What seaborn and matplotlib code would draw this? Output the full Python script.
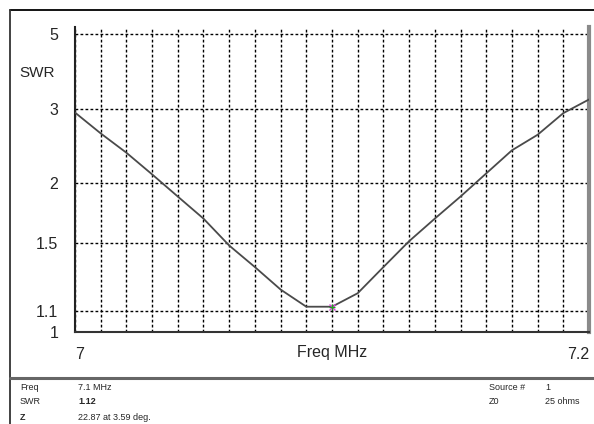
import numpy as np
import matplotlib
matplotlib.use("Agg")
import matplotlib.pyplot as plt
from matplotlib.lines import Line2D
import seaborn as sns

# ---- data ----
freq_mhz = [7.00, 7.01, 7.02, 7.03, 7.04, 7.05, 7.06, 7.07, 7.08, 7.09, 7.10,
            7.11, 7.12, 7.13, 7.14, 7.15, 7.16, 7.17, 7.18, 7.19, 7.20]
swr = [2.93, 2.60, 2.34, 2.09, 1.87, 1.68, 1.48, 1.34, 1.21, 1.12, 1.12,
       1.19, 1.34, 1.51, 1.68, 1.87, 2.10, 2.37, 2.58, 2.92, 3.17]
swr_ticks = [1, 1.1, 1.5, 2, 3, 5]
swr_tick_labels = ["1", "1.1", "1.5", "2", "3", "5"]
x_grid = [7.00, 7.01, 7.02, 7.03, 7.04, 7.05, 7.06, 7.07, 7.08, 7.09, 7.10,
          7.11, 7.12, 7.13, 7.14, 7.15, 7.16, 7.17, 7.18, 7.19, 7.20]
x_tick_labels = ["7", "7.2"]
marker_freq = [7.1]
marker_swr = [1.12]

sns.set_style("white")
plt.rcParams['font.family'] = ['Liberation Sans', 'DejaVu Sans']

W, H = 594, 424
fig = plt.figure(figsize=(W / 100, H / 100), dpi=100)

def fx(px):
    return px / W

def fy(py):
    return 1 - py / H

ax_l, ax_r, ax_t, ax_b = 75, 589, 27, 332
ax = fig.add_axes([fx(ax_l), fy(ax_b), (ax_r - ax_l) / W, (ax_b - ax_t) / H])

def fwd(s):
    s = np.asarray(s, dtype=float)
    return (s - 1) / (s + 1)

def inv(r):
    r = np.clip(np.asarray(r, dtype=float), -0.99, 0.999)
    return (1 + r) / (1 - r)

ax.set_yscale('function', functions=(fwd, inv))

sns.lineplot(x=freq_mhz, y=swr, ax=ax, color="#4a4a4a", linewidth=1.3, zorder=4)
ax.plot(marker_freq, marker_swr, marker='x', color="#e040e0", markersize=4,
        markeredgewidth=1.0, zorder=5)
ax.plot(marker_freq, marker_swr, marker='+', color="#20a020", markersize=4,
        markeredgewidth=1.0, zorder=6)

ax.set_xlim(7.0, 7.2)
ax.set_ylim(1, 5.3)

ax.set_yticks(swr_ticks)
ax.set_yticklabels(swr_tick_labels, fontsize=11.5)
ax.yaxis.set_minor_locator(matplotlib.ticker.NullLocator())
ax.set_xticks([x_grid[0], x_grid[-1]])
ax.set_xticklabels(x_tick_labels, fontsize=11.5)
ax.set_xticks(x_grid[1:-1], minor=True)
xl = ax.get_xticklabels()
xl[0].set_ha('left')
xl[1].set_ha('right')
ax.tick_params(axis='both', which='both', length=0)
ax.tick_params(axis='y', pad=12)
ax.tick_params(axis='x', pad=11)
for lab in ax.get_xticklabels():
    x0 = lab.get_position()[0]
ax.xaxis.get_majorticklabels()[1].set_x(7.2)

grid_kw = dict(color="black", linewidth=1.0, linestyle=(0, (2, 1.6)))
ax.grid(True, axis='x', which='both', **grid_kw)
ax.grid(True, axis='y', which='major', **grid_kw)
ax.set_axisbelow(True)

for side in ['top']:
    ax.spines[side].set_visible(False)
ax.spines['left'].set_color("#222222")
ax.spines['left'].set_linewidth(1.5)
ax.spines['bottom'].set_color("#333333")
ax.spines['bottom'].set_linewidth(1.5)
ax.spines['right'].set_color("#8a8a8a")
ax.spines['right'].set_linewidth(3)
ax.set_xlabel("")
ax.set_ylabel("")

# labels
fig.text(fx(19), fy(73), "SWR", fontsize=11, ha='left', va='center')
fig.text(fx(332), fy(352), "Freq MHz", fontsize=11.5, ha='center', va='center')

# frame lines
fig.add_artist(Line2D([fx(10), fx(594)], [fy(10), fy(10)], color="black", lw=1.3))
fig.add_artist(Line2D([fx(10), fx(10)], [fy(10), fy(424)], color="#333333", lw=1.3))
fig.add_artist(Line2D([fx(10), fx(594)], [fy(378), fy(378)], color="#666666", lw=2.2))

# info text
small = 6.5
fig.text(fx(20), fy(388), "Freq", fontsize=small, ha='left', va='center')
fig.text(fx(78), fy(388), "7.1 MHz", fontsize=small, ha='left', va='center')
fig.text(fx(20), fy(402), "SWR", fontsize=small, ha='left', va='center')
fig.text(fx(78), fy(402), "1.12", fontsize=small, ha='left', va='center', weight='bold')
fig.text(fx(20), fy(417), "Z", fontsize=small, ha='left', va='center', weight='bold')
fig.text(fx(78), fy(417), "22.87 at 3.59 deg.", fontsize=small, ha='left', va='center')
fig.text(fx(489), fy(388), "Source #", fontsize=small, ha='left', va='center')
fig.text(fx(545), fy(388), "1", fontsize=small, ha='left', va='center')
fig.text(fx(489), fy(402), "Z0", fontsize=small, ha='left', va='center')
fig.text(fx(545), fy(402), "25 ohms", fontsize=small, ha='left', va='center')

fig.savefig("out.png", dpi=100)
